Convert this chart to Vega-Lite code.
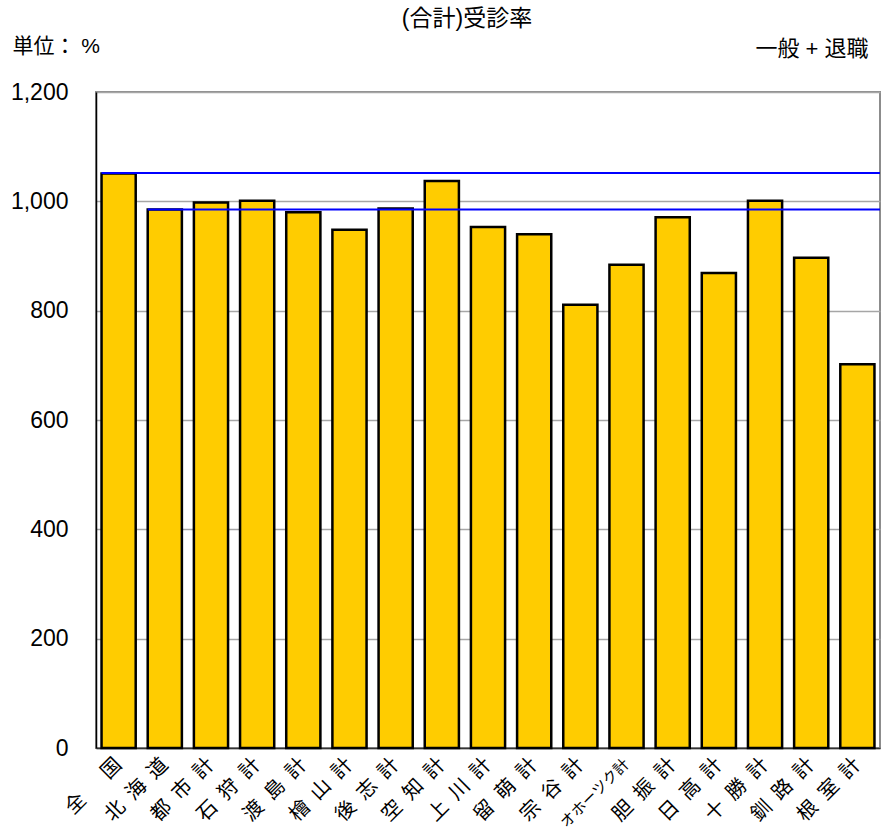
{
  "$schema": "https://vega.github.io/schema/vega-lite/v6.json",
  "width": 784,
  "height": 656,
  "autosize": {"type": "none"},
  "padding": {"left": 96, "top": 92, "right": 5, "bottom": 87},
  "background": "white",
  "title": {
    "text": "(合計)受診率",
    "anchor": "middle",
    "frame": "group",
    "dx": -21,
    "offset": 4,
    "font": "Liberation Sans, Noto Sans CJK JP",
    "fontSize": 23,
    "fontWeight": "normal",
    "color": "black"
  },
  "config": {
    "view": {"stroke": "#8c8c8c", "strokeWidth": 2},
    "font": "Liberation Sans, Noto Sans CJK JP"
  },
  "datasets": {
    "bars": [
      {"area": "全国", "rate": 1051},
      {"area": "北海道", "rate": 985},
      {"area": "都市計", "rate": 998},
      {"area": "石狩計", "rate": 1001},
      {"area": "渡島計", "rate": 980},
      {"area": "檜山計", "rate": 948},
      {"area": "後志計", "rate": 987},
      {"area": "空知計", "rate": 1037},
      {"area": "上川計", "rate": 953},
      {"area": "留萌計", "rate": 940},
      {"area": "宗谷計", "rate": 811},
      {"area": "オホーツク計", "rate": 884},
      {"area": "胆振計", "rate": 971},
      {"area": "日高計", "rate": 869},
      {"area": "十勝計", "rate": 1001},
      {"area": "釧路計", "rate": 897},
      {"area": "根室計", "rate": 702}
    ],
    "refs": [
      {"area": "全国", "rate": 1052},
      {"area": "北海道", "rate": 985}
    ]
  },
  "layer": [
    {
      "data": {"name": "bars"},
      "mark": {"type": "bar", "fill": "#FFCC00", "stroke": "black", "strokeWidth": 2.5},
      "encoding": {
        "x": {
          "field": "area",
          "type": "nominal",
          "sort": ["全国", "北海道", "都市計", "石狩計", "渡島計", "檜山計", "後志計", "空知計", "上川計", "留萌計", "宗谷計", "オホーツク計", "胆振計", "日高計", "十勝計", "釧路計", "根室計"],
          "scale": {"paddingInner": 0.26, "paddingOuter": 0.12},
          "axis": {
            "title": "一般 + 退職",
            "titleFont": "Liberation Sans, Noto Sans CJK JP",
            "titleFontSize": 22,
            "titleFontWeight": "normal",
            "titleColor": "black",
            "titleAnchor": null,
            "titleAlign": "right",
            "titleBaseline": "alphabetic",
            "titleX": 772,
            "titleY": -693,
            "labelAngle": -45,
            "labelAlign": "right",
            "labelBaseline": "middle",
            "labelPadding": 19,
            "labelFont": "Noto Sans CJK JP",
            "labelFontSize": {"expr": "datum.value == 'オホーツク計' ? 15 : 20"},
            "labelColor": "black",
            "labelExpr": "datum.value == '全国' ? '全\u3000\u2002国' : (datum.value == 'オホーツク計' ? datum.value : join(split(datum.value, ''), '\u2002'))",
            "domainColor": "#333333",
            "domainWidth": 1.5,
            "ticks": true,
            "bandPosition": 0,
            "tickSize": -6,
            "tickColor": "#555555",
            "tickWidth": 1,
            "grid": false
          }
        },
        "y": {
          "field": "rate",
          "type": "quantitative",
          "scale": {"domain": [0, 1200], "nice": false},
          "axis": {
            "title": "単位： %",
            "titleFont": "Liberation Sans, Noto Sans CJK JP",
            "titleFontSize": 21,
            "titleFontWeight": "normal",
            "titleColor": "black",
            "titleAngle": 0,
            "titleAnchor": null,
            "titleAlign": "left",
            "titleBaseline": "alphabetic",
            "titleX": -84,
            "titleY": -40,
            "values": [0, 200, 400, 600, 800, 1000, 1200],
            "format": ",.0f",
            "labelFont": "Liberation Sans",
            "labelFontSize": 23,
            "labelColor": "black",
            "labelPadding": 28,
            "ticks": false,
            "domainColor": "black",
            "domainWidth": 1.5,
            "grid": true,
            "gridColor": "#a6a6a6",
            "gridWidth": 1.5
          }
        }
      }
    },
    {
      "data": {"name": "refs"},
      "mark": {"type": "rule", "color": "#0000FF", "strokeWidth": 2},
      "encoding": {
        "x": {"field": "area", "type": "nominal", "bandPosition": 0, "sort": ["全国", "北海道", "都市計", "石狩計", "渡島計", "檜山計", "後志計", "空知計", "上川計", "留萌計", "宗谷計", "オホーツク計", "胆振計", "日高計", "十勝計", "釧路計", "根室計"]},
        "x2": {"value": "width"},
        "y": {"field": "rate", "type": "quantitative"}
      }
    }
  ]
}
